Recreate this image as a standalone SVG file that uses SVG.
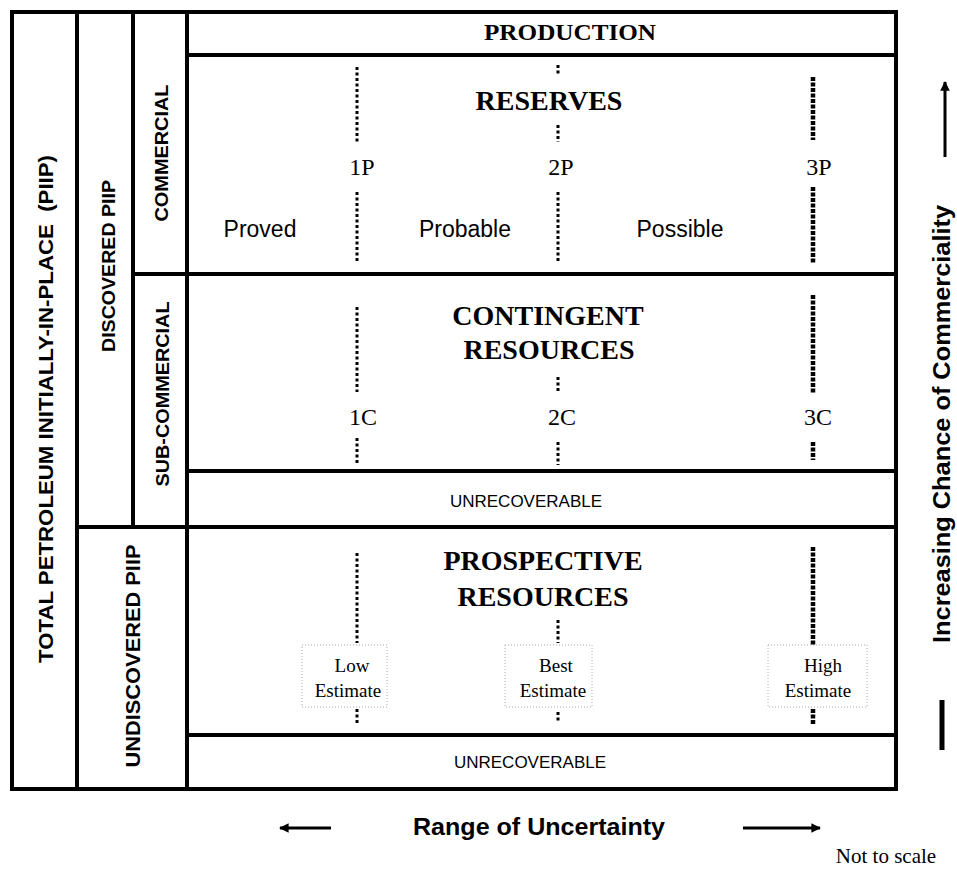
<svg xmlns="http://www.w3.org/2000/svg" width="957" height="869" viewBox="0 0 957 869">
<defs>
<style>
.fr{stroke:#000;stroke-width:4;fill:none}
.sb{font-family:"Liberation Sans",Arial,sans-serif;font-weight:bold;fill:#000}
.sn{font-family:"Liberation Sans",Arial,sans-serif;fill:#000}
.tb{font-family:"Liberation Serif","Times New Roman",serif;font-weight:bold;fill:#000}
.tn{font-family:"Liberation Serif","Times New Roman",serif;fill:#000}
.d1{stroke:#000;stroke-width:3;stroke-dasharray:3 2.5;fill:none}
.d3{stroke:#000;stroke-width:4.5;stroke-dasharray:4 1.5;fill:none}
.eb{stroke:#aaa;stroke-width:1;stroke-dasharray:1 2;fill:#fff}
.ar{stroke:#000;stroke-width:3;fill:none}
</style>
<marker id="ah" viewBox="0 0 10 10" refX="9" refY="5" markerWidth="3.2" markerHeight="3.2" orient="auto" markerUnits="strokeWidth">
<path d="M0,0 L10,5 L0,10 z" fill="#000"/>
</marker>
</defs>
<rect width="957" height="869" fill="#fff"/>

<g id="frame">
<rect class="fr" x="12" y="12" width="884" height="777"/>
<line class="fr" x1="77" y1="12" x2="77" y2="789"/>
<line class="fr" x1="133" y1="12" x2="133" y2="527"/>
<line class="fr" x1="187" y1="12" x2="187" y2="789"/>
<line class="fr" x1="187" y1="55" x2="896" y2="55"/>
<line class="fr" x1="133" y1="274" x2="896" y2="274"/>
<line class="fr" x1="187" y1="471" x2="896" y2="471"/>
<line class="fr" x1="77" y1="527" x2="896" y2="527"/>
<line class="fr" x1="187" y1="735" x2="896" y2="735"/>
</g>

<g id="total-piip">
<text class="sb" font-size="21" text-anchor="middle" textLength="508" lengthAdjust="spacingAndGlyphs" transform="translate(53,409) rotate(-90)" xml:space="preserve">TOTAL PETROLEUM INITIALLY-IN-PLACE  (PIIP)</text>
</g>
<g id="discovered-piip">
<text class="sb" font-size="19" text-anchor="middle" textLength="172" lengthAdjust="spacingAndGlyphs" transform="translate(115,266) rotate(-90)">DISCOVERED PIIP</text>
</g>
<g id="undiscovered-piip">
<text class="sb" font-size="20" text-anchor="middle" textLength="223" lengthAdjust="spacingAndGlyphs" transform="translate(140,656) rotate(-90)">UNDISCOVERED PIIP</text>
</g>
<g id="commercial">
<text class="sb" font-size="19" text-anchor="middle" textLength="137" lengthAdjust="spacingAndGlyphs" transform="translate(168,153) rotate(-90)">COMMERCIAL</text>
</g>
<g id="sub-commercial">
<text class="sb" font-size="19" text-anchor="middle" textLength="185" lengthAdjust="spacingAndGlyphs" transform="translate(169,394) rotate(-90)">SUB-COMMERCIAL</text>
</g>

<g id="production">
<text class="tb" x="570" y="40" font-size="23" text-anchor="middle" textLength="172" lengthAdjust="spacingAndGlyphs">PRODUCTION</text>
</g>

<g id="reserves">
<text class="tb" x="549" y="110" font-size="28" text-anchor="middle">RESERVES</text>
<text class="tn" x="362" y="175" font-size="24" text-anchor="middle">1P</text>
<text class="tn" x="561" y="175" font-size="24" text-anchor="middle">2P</text>
<text class="tn" x="819" y="175" font-size="24" text-anchor="middle">3P</text>
<text class="sn" x="260" y="237" font-size="23" text-anchor="middle">Proved</text>
<text class="sn" x="465" y="237" font-size="23" text-anchor="middle">Probable</text>
<text class="sn" x="680" y="237" font-size="23" text-anchor="middle">Possible</text>
</g>

<g id="contingent-resources">
<text class="tb" x="548" y="325" font-size="28" text-anchor="middle">CONTINGENT</text>
<text class="tb" x="549" y="359" font-size="28" text-anchor="middle">RESOURCES</text>
<text class="tn" x="363" y="425" font-size="24" text-anchor="middle">1C</text>
<text class="tn" x="562" y="425" font-size="24" text-anchor="middle">2C</text>
<text class="tn" x="818" y="425" font-size="24" text-anchor="middle">3C</text>
</g>

<g id="unrecoverable-1">
<text class="sn" x="526" y="507" font-size="17" text-anchor="middle">UNRECOVERABLE</text>
</g>

<g id="prospective-resources">
<text class="tb" x="543" y="570" font-size="28" text-anchor="middle">PROSPECTIVE</text>
<text class="tb" x="543" y="606" font-size="28" text-anchor="middle">RESOURCES</text>
</g>

<g id="low-estimate">
<rect class="eb" x="302" y="645" width="85" height="62"/>
<text class="tn" x="352" y="672" font-size="19" text-anchor="middle">Low</text>
<text class="tn" x="348" y="697" font-size="19" text-anchor="middle">Estimate</text>
</g>
<g id="best-estimate">
<rect class="eb" x="505" y="645" width="87" height="62"/>
<text class="tn" x="556" y="672" font-size="19" text-anchor="middle">Best</text>
<text class="tn" x="553" y="697" font-size="19" text-anchor="middle">Estimate</text>
</g>
<g id="high-estimate">
<rect class="eb" x="768" y="645" width="99" height="62"/>
<text class="tn" x="823" y="672" font-size="19" text-anchor="middle">High</text>
<text class="tn" x="818" y="697" font-size="19" text-anchor="middle">Estimate</text>
</g>

<g id="unrecoverable-2">
<text class="sn" x="530" y="768" font-size="17" text-anchor="middle">UNRECOVERABLE</text>
</g>

<g id="connectors">
<line class="d1" x1="357" y1="67" x2="357" y2="142"/>
<line class="d1" x1="357" y1="192" x2="357" y2="263"/>
<line class="d1" x1="558" y1="65" x2="558" y2="75"/>
<line class="d1" x1="558" y1="125" x2="558" y2="142"/>
<line class="d1" x1="558" y1="192" x2="558" y2="263"/>
<line class="d3" x1="813" y1="77" x2="813" y2="140"/>
<line class="d3" x1="813" y1="187" x2="813" y2="263"/>

<line class="d1" x1="357" y1="307" x2="357" y2="392"/>
<line class="d1" x1="357" y1="438" x2="357" y2="464"/>
<line class="d1" x1="558" y1="377" x2="558" y2="393"/>
<line class="d1" x1="558" y1="442" x2="558" y2="465"/>
<line class="d3" x1="813" y1="295" x2="813" y2="393"/>
<line class="d3" x1="813" y1="442" x2="813" y2="460"/>

<line class="d1" x1="357" y1="553" x2="357" y2="643"/>
<line class="d1" x1="357" y1="709" x2="357" y2="723"/>
<line class="d1" x1="558" y1="620" x2="558" y2="643"/>
<line class="d1" x1="558" y1="712" x2="558" y2="723"/>
<line class="d3" x1="813" y1="547" x2="813" y2="645"/>
<line class="d3" x1="813" y1="709" x2="813" y2="725"/>
</g>

<g id="commerciality-axis">
<line class="ar" x1="945" y1="157" x2="945" y2="82" marker-end="url(#ah)"/>
<text class="sb" font-size="24" text-anchor="middle" textLength="438" lengthAdjust="spacingAndGlyphs" transform="translate(950,424) rotate(-90)">Increasing Chance of Commerciality</text>
<line stroke="#000" stroke-width="5" x1="942" y1="700" x2="942" y2="750"/>
</g>

<g id="uncertainty-axis">
<line class="ar" x1="331" y1="828" x2="280" y2="828" marker-end="url(#ah)"/>
<text class="sb" x="539" y="835" font-size="24" text-anchor="middle" textLength="252" lengthAdjust="spacingAndGlyphs">Range of Uncertainty</text>
<line class="ar" x1="743" y1="828" x2="820" y2="828" marker-end="url(#ah)"/>
</g>

<g id="note">
<text class="tn" x="886" y="863" font-size="21" text-anchor="middle">Not to scale</text>
</g>
</svg>
